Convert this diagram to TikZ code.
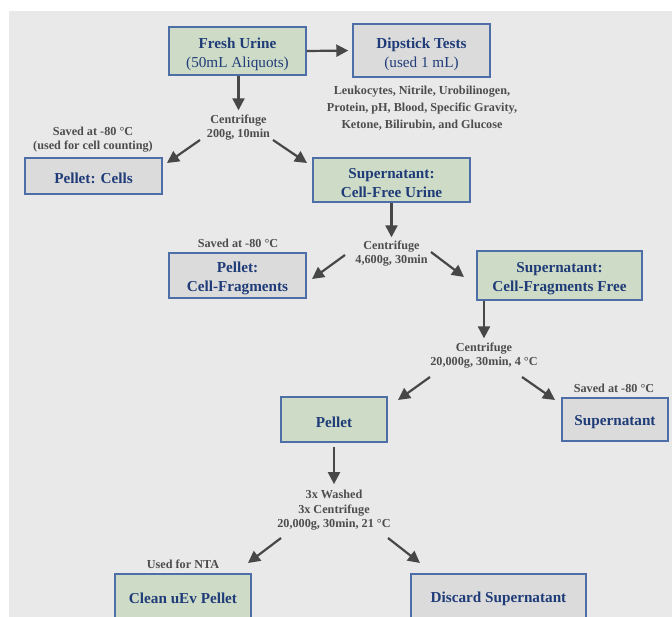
\documentclass[tikz,border=0pt]{standalone}
\usepackage{fontspec}
\setmainfont{Liberation Serif}
\usetikzlibrary{arrows.meta}
\newdimen\pxu \pxu=0.75pt
\newcommand\boxstrut{\rule{0pt}{11.8pt}}
\definecolor{bgc}{HTML}{E9E9E9}
\definecolor{greenf}{HTML}{CEDCC7}
\definecolor{grayf}{HTML}{DBDBDB}
\definecolor{bordc}{HTML}{4D6EA6}
\definecolor{textblue}{HTML}{1F3C78}
\definecolor{annotc}{HTML}{4D4D4D}
\definecolor{arrowc}{HTML}{474747}
\begin{document}
\begin{tikzpicture}[x=0.75pt,y=-0.75pt,
  box/.style={draw=bordc, line width=1.05pt, inner sep=0pt, align=center,
    text=textblue, font=\fontsize{11.4}{14.25}\selectfont},
  greenbox/.style={box, fill=greenf},
  graybox/.style={box, fill=grayf},
  annot/.style={inner sep=0pt, align=center, text=annotc,
    font=\fontsize{9.15}{10.9}\selectfont\bfseries},
  arr/.style={draw=arrowc, line width=1.65pt,
    -{Triangle[length=9pt,width=9pt]}}]
\useasboundingbox (0,0) rectangle (672,617);
\clip (0,0) rectangle (672,617);
\fill[white] (0,0) rectangle (672,617);
\fill[bgc] (9,11) rectangle (672,617);

% boxes
\node[greenbox, minimum width=137\pxu, minimum height=48\pxu] (fresh) at (237.5,51)
  {\rule{0pt}{12.6pt}\textbf{Fresh Urine}\\(50mL Aliquots)};
\node[graybox, minimum width=137\pxu, minimum height=53\pxu] (dip) at (421.5,50.5)
  {\rule{0pt}{13pt}\textbf{Dipstick Tests}\\(used 1 mL)};
\node[graybox, minimum width=137\pxu, minimum height=36\pxu] (cells) at (93.5,176)
  {\boxstrut\textbf{Pellet: Cells}};
\node[greenbox, minimum width=157\pxu, minimum height=44\pxu] (scf) at (391.5,180)
  {\boxstrut\textbf{Supernatant:}\\\textbf{Cell-Free Urine}};
\node[graybox, minimum width=137\pxu, minimum height=45\pxu] (pcf) at (237.5,275.5)
  {\boxstrut\textbf{Pellet:}\\\textbf{Cell-Fragments}};
\node[greenbox, minimum width=165\pxu, minimum height=49\pxu] (scff) at (559.5,275.5)
  {\boxstrut\textbf{Supernatant:}\\\textbf{Cell-Fragments Free}};
\node[greenbox, minimum width=106\pxu, minimum height=45\pxu] (pel) at (334,419.5)
  {\boxstrut\textbf{Pellet}};
\node[graybox, minimum width=106\pxu, minimum height=43\pxu] (sup) at (615,419.5)
  {\boxstrut\textbf{Supernatant}};
\node[greenbox, minimum width=136\pxu, minimum height=44\pxu] (clean) at (183,596)
  {\boxstrut\textbf{Clean uEv Pellet}};
\node[graybox, minimum width=175\pxu, minimum height=44\pxu] (disc) at (498.5,596)
  {\boxstrut\textbf{Discard Supernatant}};

% annotations
\node[annot, font=\fontsize{9.15}{12.9}\selectfont\bfseries] (diplist) at (422,108)
  {Leukocytes, Nitrile, Urobilinogen,\\Protein, pH, Blood, Specific Gravity,\\Ketone, Bilirubin, and Glucose};
\node[annot] (c1) at (238.5,127.5) {Centrifuge\\200g, 10min};
\node[annot] (saved1) at (93,139.5) {Saved at -80 °C\\(used for cell counting)};
\node[annot] (c2) at (391.5,253.5) {Centrifuge\\4,600g, 30min};
\node[annot] (saved2) at (238,243) {Saved at -80 °C};
\node[annot] (c3) at (484,355.5) {Centrifuge\\20,000g, 30min, 4 °C};
\node[annot] (saved3) at (614,388) {Saved at -80 °C};
\node[annot] (wash) at (334,510.5) {3x Washed\\3x Centrifuge\\20,000g, 30min, 21 °C};
\node[annot] (nta) at (183,564) {Used for NTA};

% arrow end points
\coordinate (a1s) at (200,140); \coordinate (a1e) at (167,163);
\coordinate (a2s) at (273,140); \coordinate (a2e) at (307,163);
\coordinate (a3s) at (345,255); \coordinate (a3e) at (312,279);
\coordinate (a4s) at (431,252); \coordinate (a4e) at (464,277);
\coordinate (a5s) at (430,377); \coordinate (a5e) at (398,400);
\coordinate (a6s) at (522,377); \coordinate (a6e) at (555,400);
\coordinate (a7s) at (281,538); \coordinate (a7e) at (248,563);
\coordinate (a8s) at (388,538); \coordinate (a8e) at (420,563);

% connectors
\draw[arr, shorten >=3pt] (fresh.east) -- (dip.west);
\draw[arr, shorten >=3pt] (c1.north |- fresh.south) -- (c1.north);
\draw[arr] (a1s) -- (a1e);
\draw[arr] (a2s) -- (a2e);
\draw[arr, shorten >=2.25pt] (scf.south) -- (c2.north);
\draw[arr] (a3s) -- (a3e);
\draw[arr] (a4s) -- (a4e);
\draw[arr, shorten >=3pt] (c3.north |- scff.south) -- (c3.north);
\draw[arr] (a5s) -- (a5e);
\draw[arr] (a6s) -- (a6e);
\draw[arr, shorten <=3pt, shorten >=4.5pt] (pel.south) -- (wash.north);
\draw[arr] (a7s) -- (a7e);
\draw[arr] (a8s) -- (a8e);
\end{tikzpicture}
\end{document}
